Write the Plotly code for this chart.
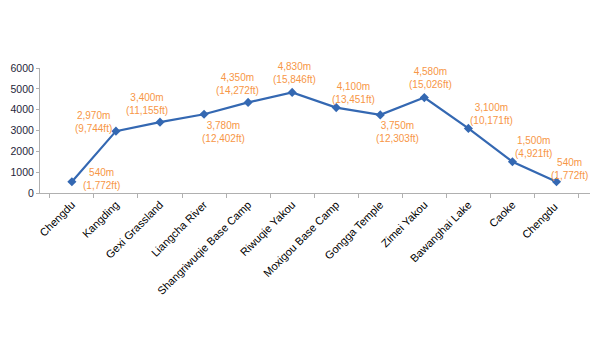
import plotly.graph_objects as go

places = ["Chengdu", "Kangding", "Gexi Grassland", "Liangcha River", "Shangriwuqie Base Camp",
          "Riwuqie Yakou", "Moxigou Base Camp", "Gongga Temple", "Zimei Yakou", "Bawanghai Lake",
          "Caoke", "Chengdu "]
alt_m = [540, 2970, 3400, 3780, 4350, 4830, 4100, 3750, 4580, 3100, 1500, 540]
alt_ft = ["1,772", "9,744", "11,155", "12,402", "14,272", "15,846", "13,451", "12,303",
          "15,026", "10,171", "4,921", "1,772"]
# label offsets in pixels (dx, dy) relative to each point
offsets = [(30, -3), (-22, -9), (-13, -18), (19, 18), (-11, -18), (2, -19), (17, -15),
           (17, 17), (6, -20), (23, -14), (21, -15), (13, -13)]

fig = go.Figure()
fig.add_trace(go.Scatter(
    x=places, y=alt_m, mode="lines+markers",
    line=dict(color="#3468B2", width=2.2),
    marker=dict(symbol="diamond", size=7, color="#3468B2"),
    hoverinfo="skip", showlegend=False,
))

for p, m, ft, (dx, dy) in zip(places, alt_m, alt_ft, offsets):
    fig.add_annotation(
        x=p, y=m, text=f"{m:,}m<br>({ft}ft)", showarrow=False,
        xshift=dx, yshift=-dy, xanchor="center", yanchor="middle",
        font=dict(family="Liberation Sans, Arial, sans-serif", size=10, color="#F79646"),
    )

# page body has an 8px default margin, so the figure is sized to fit the window
fig.update_layout(
    width=592, height=352,
    margin=dict(l=32, r=10, t=60, b=167),
    paper_bgcolor="white", plot_bgcolor="white",
    font=dict(family="Liberation Sans, Arial, sans-serif", size=11, color="#000000"),
)
fig.update_xaxes(
    type="category", tickangle=-45, showgrid=False, automargin=False,
    showline=True, linecolor="#B0B0B0", linewidth=1,
    ticks="outside", tickson="boundaries", ticklen=4, tickcolor="#B0B0B0",
    tickfont=dict(size=11, color="#000000"),
)
fig.update_yaxes(
    range=[0, 6000], dtick=1000, showgrid=False, zeroline=False, automargin=False,
    showline=True, linecolor="#B0B0B0", linewidth=1,
    ticks="outside", ticklen=3, tickcolor="#B0B0B0",
    tickfont=dict(size=10.5, color="#1F1F3A"),
)

fig.write_html("out.html")
